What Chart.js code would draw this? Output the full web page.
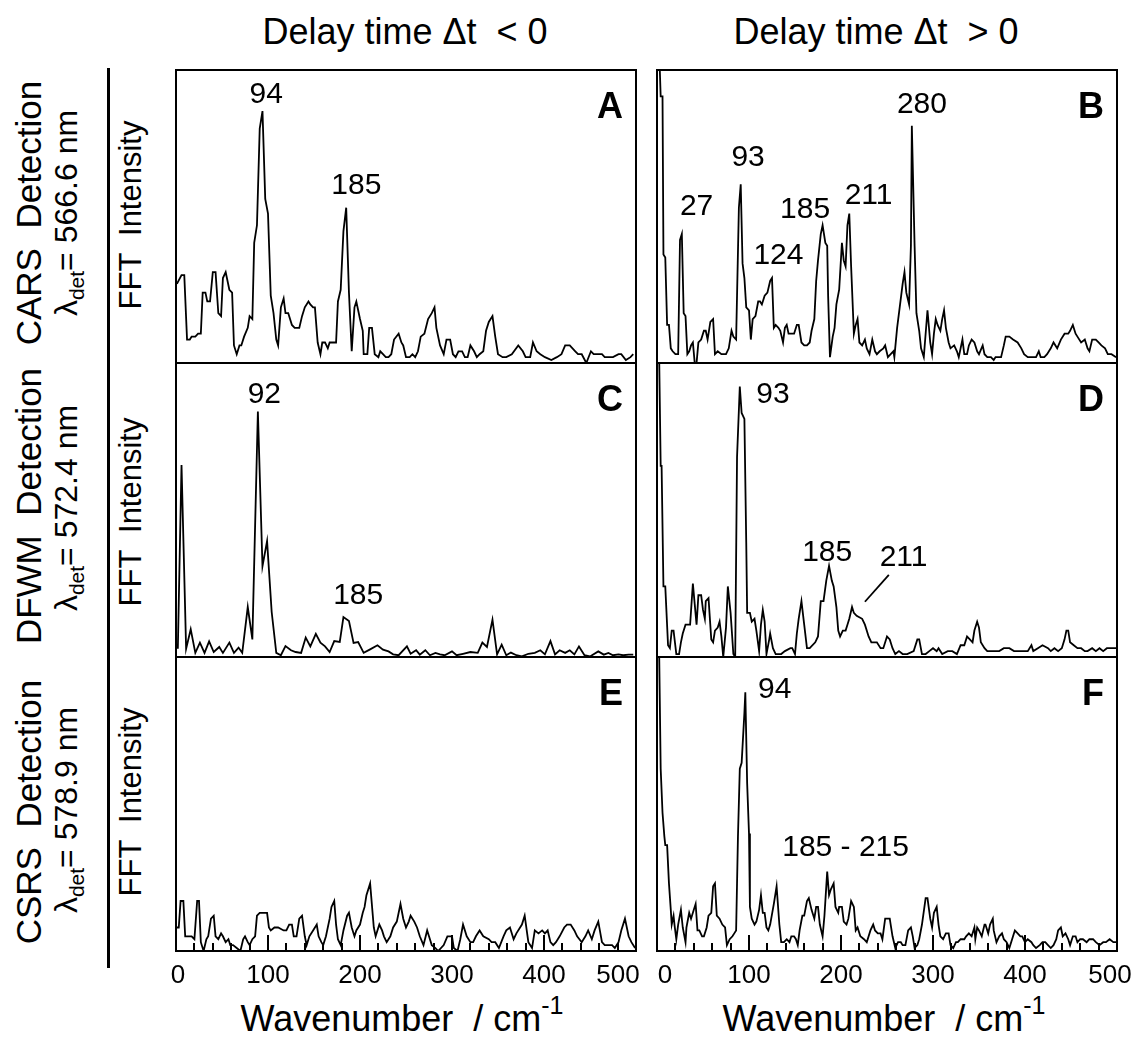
<!DOCTYPE html>
<html>
<head>
<meta charset="utf-8">
<script src="https://cdn.jsdelivr.net/npm/chart.js@4.4.0/dist/chart.umd.min.js"></script>
<style>
  body { margin: 0; background: #fff; }
  #fig { position: relative; width: 1137px; height: 1040px; font-family: 'Liberation Sans', Arial, sans-serif; color: #000; overflow: hidden; }
  .t { position: absolute; white-space: pre; line-height: 1; transform: translate(-50%, -50%); }
  .r { transform: translate(-50%, -50%) rotate(-90deg); }
  .sup { font-size: 25px; position: relative; top: -17px; }
  .sub { font-size: 21px; position: relative; top: 7px; }
  canvas { position: absolute; }
</style>
</head>
<body>
<div id="fig">
  <div class="t" style="left:405px;top:32px;font-size:36px">Delay time Δt  &lt; 0</div>
  <div class="t" style="left:876px;top:32px;font-size:36px">Delay time Δt  &gt; 0</div>

  <div class="t r" style="left:28px;top:213px;font-size:35px">CARS  Detection</div>
  <div class="t r" style="left:66px;top:213px;font-size:32px">λ<span class="sub">det</span>= 566.6 nm</div>
  <div class="t r" style="left:130px;top:215px;font-size:31px">FFT  Intensity</div>

  <div class="t r" style="left:28px;top:506px;font-size:35px">DFWM  Detection</div>
  <div class="t r" style="left:66px;top:508px;font-size:32px">λ<span class="sub">det</span>= 572.4 nm</div>
  <div class="t r" style="left:130px;top:512px;font-size:31px">FFT  Intensity</div>

  <div class="t r" style="left:28px;top:812px;font-size:35px">CSRS  Detection</div>
  <div class="t r" style="left:66px;top:810px;font-size:32px">λ<span class="sub">det</span>= 578.9 nm</div>
  <div class="t r" style="left:130px;top:802px;font-size:31px">FFT  Intensity</div>

  <div style="position:absolute;left:107px;top:68px;width:3px;height:900px;background:#000"></div>

  <div class="t" style="left:402px;top:1019px;font-size:36px">Wavenumber  / cm<span class="sup">-1</span></div>
  <div class="t" style="left:884px;top:1019px;font-size:36px">Wavenumber  / cm<span class="sup">-1</span></div>
</div>

<script>
// wavenumber (cm-1) and FFT intensity (% of panel height)
const wnA = [1,6,9,12,15,17,21,24,27,29,
  32,34,37,40,43,46,49,51,54,58,
  61,63,66,69,71,74,78,80,83,85,
  88,91,94,97,100,103,106,109,111,114,
  117,119,122,126,129,134,137,140,144,146,
  149,151,154,157,159,162,165,167,171,174,
  176,179,182,185,188,191,194,196,200,203,
  204,208,210,213,216,220,222,225,228,231,
  234,237,242,245,247,250,254,257,260,263,
  266,270,274,278,281,283,287,291,294,298,
  301,304,307,311,314,317,320,324,327,330,
  334,337,340,344,347,350,355,359,365,372,
  377,380,385,388,392,396,401,408,414,419,
  423,428,434,437,441,446,451,454,458,463,
  466,471,475,481,484,489,494,497];
const intA = [27,30,30,8,8,9,9,10,10,24,
  24,21,21,31,31,17,16,29,31,25,
  24,6,3,6,6,9,12,16,15,41,
  47,80,86,56,51,23,17,8,6,19,
  22,17,17,13,12,12,16,19,21,20,
  19,19,7,3,7,7,5,7,7,7,
  21,25,45,53,24,4,19,21,15,11,
  3,3,12,12,3,2,4,3,2,2,
  3,8,10,7,6,2,2,3,2,4,
  9,10,15,17,19,12,6,3,8,8,
  3,2,4,4,2,2,6,4,2,3,
  4,11,14,16,9,3,2,2,3,6,
  4,2,2,7,4,3,2,1,2,3,
  6,6,4,3,3,0,4,3,3,3,
  2,2,2,3,3,1,2,3];

const wnB = [2,4,6,7,9,11,13,15,17,20,
  23,25,27,29,31,33,35,37,39,41,
  43,45,48,51,53,55,58,61,63,66,
  70,75,78,81,83,86,89,91,93,95,
  97,100,102,104,107,110,112,114,117,120,
  123,125,127,129,132,134,137,139,141,143,
  146,149,152,154,157,160,163,166,168,171,
  173,175,178,180,183,185,186,188,191,193,
  195,198,201,203,205,207,209,211,214,216,
  218,220,223,226,228,231,234,237,239,242,
  246,248,251,254,257,258,261,265,267,269,
  271,274,276,277,280,282,285,287,290,293,
  294,297,299,301,303,305,308,310,312,314,
  317,319,323,326,328,332,334,337,339,342,
  345,348,350,354,356,359,363,366,368,371,
  374,377,379,383,387,392,396,399,403,408,
  412,415,417,421,424,428,431,435,439,443,
  447,449,452,455,457,461,465,468,470,473,
  477,480,483,487,490,494,499];
const intB = [110,91,91,37,36,13,13,5,4,3,
  3,42,44,17,16,3,4,6,7,0,
  0,7,8,11,11,8,14,15,3,4,
  3,3,5,11,9,8,53,61,34,29,
  19,18,8,15,16,21,21,20,23,24,
  28,29,12,13,12,11,7,12,13,10,
  10,10,13,13,7,6,6,7,11,15,
  28,35,44,47,41,40,23,2,9,12,
  20,25,41,35,33,47,51,33,10,13,
  15,7,6,8,5,3,8,4,3,4,
  5,6,2,3,4,2,12,22,27,31,
  24,20,40,81,40,17,11,5,2,14,
  18,7,3,10,15,13,11,15,18,12,
  7,5,6,4,2,8,3,3,6,8,
  7,4,3,6,3,2,2,1,2,2,
  2,6,9,9,8,7,5,3,2,2,
  2,4,2,2,3,5,7,5,8,10,
  10,11,13,10,9,7,8,5,4,8,
  8,7,6,5,3,3,2];

const wnC = [2,6,11,16,21,26,31,36,41,47,
  51,58,63,68,72,78,83,89,94,99,
  104,109,114,119,125,130,136,141,146,152,
  157,162,167,172,178,182,188,193,198,204,
  211,219,225,231,236,242,251,255,261,265,
  271,276,282,287,292,300,305,312,320,328,
  333,338,344,349,354,359,364,370,376,383,
  390,396,401,407,412,417,423,428,433,438,
  444,450,459,465,470,475,481,486,492,497];
const intC = [2.8,65.3,2.8,9.4,1.4,4.9,1.4,5.3,1.7,3.4,
  1.4,4.9,1.4,3.2,1.4,17.0,6.0,83.5,30.9,39.4,
  15.3,1.4,0.6,3.7,2.3,1.7,1.4,6.6,3.6,7.9,
  4.9,3.6,1.7,5.4,5.1,13.6,12.2,4.8,5.1,1.4,
  2.6,4.0,2.5,1.9,0.9,0.6,3.6,1.1,2.3,0.8,
  2.3,0.6,1.4,0.9,0.6,1.9,0.6,1.1,1.7,1.4,
  4.9,3.4,12.7,0.9,4.2,0.6,1.5,0.6,0.2,1.1,
  1.4,2.3,0.9,5.4,0.9,2.3,1.4,2.3,0.9,3.6,
  0.6,0.2,1.9,0.8,1.4,0.6,0.9,0.6,0.8,0.8];

const wnD = [2,4,5,7,9,12,14,16,18,21,
  24,26,28,31,33,36,39,41,43,45,
  48,50,52,53,56,59,61,63,66,68,
  70,72,75,77,80,83,85,87,90,92,
  95,97,98,101,103,106,108,111,113,115,
  117,119,122,123,126,129,135,139,145,147,
  150,152,154,157,160,163,166,172,175,178,
  181,184,187,190,192,195,197,199,202,205,
  207,209,212,214,217,223,226,230,233,236,
  239,243,246,250,253,256,259,263,267,272,
  279,283,285,288,292,296,300,304,306,310,
  316,321,326,330,334,337,340,343,345,348,
  350,352,356,359,366,372,377,383,388,394,
  399,403,407,409,414,419,425,428,432,436,
  440,443,445,447,449,453,457,461,465,468,
  473,477,481,485,489,493,498,501];
const intD = [110,65,65,24,24,4,3,9,9,1,
  1,5,8,11,11,11,25,18,11,21,
  21,16,13,19,20,6,5,9,10,12,
  7,0,10,24,15,1,0,68,92,83,
  81,39,15,15,12,13,9,2,11,16,
  12,1,6,8,3,1,1,2,3,3,
  1,8,13,19,11,3,3,5,7,19,
  19,26,31,26,24,17,9,7,9,9,
  11,13,17,15,14,13,11,7,5,5,
  5,3,3,7,6,3,1,2,1,1,
  2,6,6,1,1,2,3,2,3,1,
  2,2,1,4,4,7,6,5,9,12,
  10,5,3,2,2,2,3,3,2,2,
  2,2,4,2,3,4,3,2,3,2,
  3,6,9,9,5,4,3,3,2,2,
  3,2,3,2,3,3,3,3];

const wnE = [0,3,5,8,10,13,17,20,23,25,
  27,30,33,35,38,41,43,46,49,51,
  54,57,59,62,66,70,73,75,78,80,
  83,86,88,91,95,99,101,103,107,111,
  117,120,123,126,128,131,134,137,140,142,
  145,149,153,155,158,160,163,167,169,172,
  174,176,179,182,186,188,191,194,196,200,
  203,205,207,211,215,217,221,224,226,229,
  233,236,240,244,247,250,253,255,259,262,
  265,269,273,275,278,282,285,291,295,300,
  302,306,309,312,316,320,323,326,330,334,
  340,343,347,351,356,359,363,367,370,376,
  379,383,387,390,394,398,401,404,407,410,
  413,417,422,425,429,433,436,441,445,448,
  452,455,459,463,466,470,474,477,481,484,
  488,492,495,499];
const intE = [8,8,17,17,5,5,5,4,17,17,
  3,0,4,5,11,12,5,4,6,5,
  3,4,2,2,1,0,4,5,3,2,
  4,5,12,13,13,13,8,7,8,8,
  7,7,9,9,5,5,11,12,5,2,
  5,7,9,5,3,2,5,11,15,17,
  9,4,2,7,12,13,8,5,7,9,
  13,15,19,23,8,5,9,7,5,3,
  5,8,10,16,11,8,10,12,10,8,
  5,2,7,5,2,1,0,2,5,5,
  1,0,4,9,5,3,3,5,7,5,
  4,3,3,1,5,7,8,4,6,9,
  12,3,1,7,6,7,6,7,3,2,
  3,5,8,9,9,7,5,3,5,7,
  4,7,10,3,2,2,2,1,3,7,
  11,5,3,1];

const wnF = [2,4,6,8,9,11,13,15,16,18,
  19,21,23,26,28,31,32,35,37,40,
  42,44,46,49,51,54,56,59,61,63,
  65,68,71,74,76,79,82,84,86,88,
  90,92,95,96,98,100,101,103,106,108,
  111,113,115,117,119,121,123,127,130,133,
  135,138,141,144,146,149,151,153,155,158,
  160,163,165,168,171,173,175,177,180,182,
  185,187,189,192,194,197,198,201,203,206,
  208,211,214,216,218,221,225,228,232,235,
  237,240,243,245,248,250,253,254,256,259,
  262,265,267,270,273,276,278,280,283,285,
  288,292,294,297,299,301,304,306,308,311,
  314,317,319,322,325,327,330,334,336,339,
  342,345,346,348,350,353,356,357,360,362,
  365,366,369,372,375,377,380,383,387,389,
  392,395,397,400,403,407,409,412,416,419,
  422,425,428,431,434,436,439,441,444,447,
  449,452,455,457,460,463,467,470,474,477,
  481,485,488,492,496,499];
const intF = [110,62,47,39,36,36,23,14,9,12,
  9,4,9,14,8,3,8,13,11,14,
  16,7,7,5,5,8,12,13,22,23,
  12,11,9,8,2,4,5,6,7,39,
  62,64,81,88,57,40,15,11,9,10,
  14,19,13,13,8,7,9,16,22,9,
  3,3,4,3,5,5,4,2,7,12,
  12,17,18,14,11,15,15,9,5,12,
  27,19,21,23,15,13,15,15,10,9,
  11,17,15,7,8,5,4,3,7,9,
  7,6,6,4,11,11,11,9,5,1,
  3,3,2,2,7,8,5,1,2,4,
  9,18,18,11,8,13,15,9,5,4,
  6,6,2,1,3,3,4,4,5,6,
  5,8,4,8,7,5,9,9,6,9,
  11,7,3,5,6,4,3,1,5,7,
  6,5,5,3,4,3,2,1,2,3,
  3,2,1,2,4,7,8,5,6,4,
  2,5,5,3,4,4,3,4,4,3,
  2,3,3,4,3,3];

// peak annotations in data units
const peaksA = [{text: '94', wn: 98, y: 92.6}, {text: '185', wn: 196, y: 61.3}];
const peaksB = [{text: '27', wn: 43, y: 54.3}, {text: '93', wn: 99, y: 71}, {text: '124', wn: 132, y: 37.4},
  {text: '185', wn: 161, y: 53.3}, {text: '211', wn: 230, y: 57.9}, {text: '280', wn: 288, y: 89.2}];
const peaksC = [{text: '92', wn: 96, y: 90.2}, {text: '185', wn: 198, y: 21.7}];
const peaksD = [{text: '93', wn: 126, y: 90.2}, {text: '185', wn: 185, y: 36.4}, {text: '211', wn: 268, y: 34.7}];
const peaksF = [{text: '94', wn: 128, y: 89.7}, {text: '185 - 215', wn: 205, y: 36.1}];
const leaderD = [226, 18.8, 252, 27.9];

const xTicks = [0, 100, 200, 300, 400, 500];

const FONT = "'Liberation Sans', Arial, sans-serif";

const framePlugin = {
  id: 'frame',
  afterDatasetsDraw(chart, args, opts) {
    const { ctx, chartArea: a, scales: { x, y } } = chart;
    ctx.save();
    ctx.strokeStyle = '#000';
    ctx.fillStyle = '#000';
    ctx.lineWidth = 2;
    ctx.strokeRect(a.left, a.top, a.right - a.left, a.bottom - a.top);

    if (opts.ticks) {
      // inward minor/major ticks on the bottom row
      ctx.beginPath();
      for (let v = 20; v < 500; v += 20) {
        const px = Math.round(x.getPixelForValue(v));
        const len = v % 100 === 0 ? 16 : 8;
        ctx.moveTo(px, a.bottom);
        ctx.lineTo(px, a.bottom - len);
      }
      ctx.stroke();

      ctx.font = '26px ' + FONT;
      ctx.textAlign = 'center';
      ctx.textBaseline = 'alphabetic';
      xTicks.forEach((v, i) => {
        let dx = 0;
        if (i === 0) dx = opts.edge[0];
        if (i === xTicks.length - 1) dx = opts.edge[1];
        ctx.fillText(String(v), x.getPixelForValue(v) + dx, a.bottom + 32);
      });
    }

    if (opts.leader) {
      const l = opts.leader;
      ctx.lineWidth = 1.8;
      ctx.beginPath();
      ctx.moveTo(x.getPixelForValue(l[0]), y.getPixelForValue(l[1]));
      ctx.lineTo(x.getPixelForValue(l[2]), y.getPixelForValue(l[3]));
      ctx.stroke();
    }

    ctx.font = 'bold 36px ' + FONT;
    ctx.textAlign = 'right';
    ctx.textBaseline = 'alphabetic';
    ctx.fillText(opts.letter, a.right - 13, a.top + 48);

    ctx.font = '30px ' + FONT;
    ctx.textAlign = 'center';
    (opts.peaks || []).forEach(p => {
      ctx.fillText(p.text, x.getPixelForValue(p.wn), y.getPixelForValue(p.y) + 11);
    });
    ctx.restore();
  }
};

const colX = [176, 657];
const rowY = [70, 363, 657];
const rowH = [293, 294, 294];
const edgeShift = [[2, -18], [8, -7]];
const boxW = 460;
const padSide = 26;
const axisH = 50;

function panel(col, row, wn, inten, letter, peaks, leader) {
  const bottomRow = row === 2;
  const canvas = document.createElement('canvas');
  const padBottom = bottomRow ? axisH : 4;
  canvas.width = boxW + padSide * 2;
  canvas.height = rowH[row] + 4 + padBottom;
  canvas.style.left = (colX[col] - padSide) + 'px';
  canvas.style.top = (rowY[row] - 4) + 'px';
  document.getElementById('fig').appendChild(canvas);

  new Chart(canvas.getContext('2d'), {
    type: 'line',
    data: {
      datasets: [{
        data: wn.map((v, i) => ({ x: v, y: inten[i] })),
        borderColor: '#000',
        borderWidth: 1.8,
        pointRadius: 0,
        tension: 0,
        fill: false,
        clip: 0
      }]
    },
    options: {
      responsive: false,
      animation: false,
      events: [],
      layout: { padding: { left: padSide, right: padSide, top: 4, bottom: padBottom } },
      plugins: {
        legend: { display: false },
        tooltip: { enabled: false },
        frame: { letter: letter, peaks: peaks, leader: leader, ticks: bottomRow, edge: edgeShift[col] }
      },
      scales: {
        x: { type: 'linear', min: 0, max: 500, display: false },
        y: { display: false, min: 0, max: 100 }
      }
    },
    plugins: [framePlugin]
  });
}

panel(0, 0, wnA, intA, 'A', peaksA);
panel(1, 0, wnB, intB, 'B', peaksB);
panel(0, 1, wnC, intC, 'C', peaksC);
panel(1, 1, wnD, intD, 'D', peaksD, leaderD);
panel(0, 2, wnE, intE, 'E', []);
panel(1, 2, wnF, intF, 'F', peaksF);
</script>
</body>
</html>
